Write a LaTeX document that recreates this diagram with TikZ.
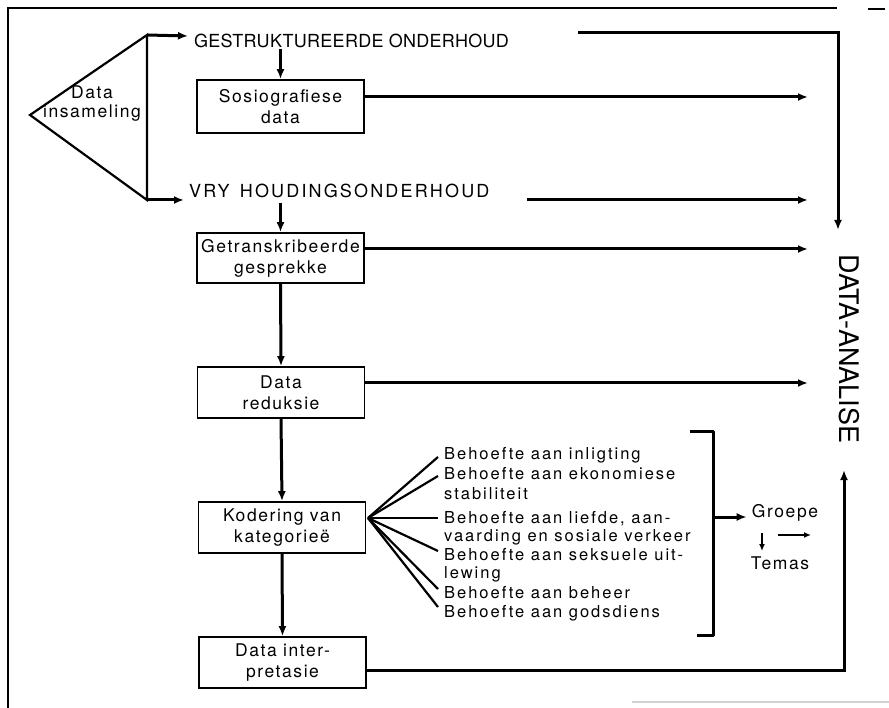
\documentclass[tikz,border=0pt]{standalone}
\usepackage{fontspec}
\setmainfont{TeX Gyre Heros}
\newfontfamily\boxfont[LetterSpace=9]{TeX Gyre Heros}
\newfontfamily\lblfont[LetterSpace=12]{TeX Gyre Heros}
\newfontfamily\headfont[LetterSpace=1.5]{TeX Gyre Heros}
\newfontfamily\headwfont[LetterSpace=12]{TeX Gyre Heros}
\usetikzlibrary{arrows.meta,calc}
\begin{document}
\begin{tikzpicture}[x=1pt,y=-1pt,
  arr/.style={line width=3pt,-{Latex[length=10pt,width=8pt]}},
  smallarr/.style={line width=2.2pt,-{Latex[length=7pt,width=6pt]}},
  thickline/.style={line width=3pt},
  fan/.style={line width=2.2pt},
  stepbox/.style={draw,line width=1.7pt,minimum width=167pt,inner sep=0pt,align=center,
    font=\boxfont\fontsize{17.5}{21}\selectfont},
  lbl/.style={anchor=base west,inner sep=0pt,font=\lblfont\fontsize{16.5}{19}\selectfont},
  plain/.style={inner sep=0pt,align=center,font=\boxfont\fontsize{17.5}{19}\selectfont},
  head/.style={anchor=base west,inner sep=0pt,font=\headfont\fontsize{18}{20}\selectfont},
  headw/.style={anchor=base west,inner sep=0pt,font=\headwfont\fontsize{18}{20}\selectfont}
]
\useasboundingbox (0,0) rectangle (889,708);

% frame
\draw[line width=1.2pt] (8,708) -- (8,8) -- (837,8);
\draw[line width=1.2pt] (868,9) -- (885,9);
\draw[gray!35,line width=1.5pt] (632,702) -- (889,702);

% triangle
\coordinate (apex) at (30,115);
\coordinate (tt) at (147,35);
\coordinate (tb) at (147,200);
\draw[line width=2.2pt,line join=miter] (tt) -- (apex) -- (tb) -- cycle;
\node[plain] (dins) at (92,104) {Data\\insameling};

% headings
\node[head] (gest) at (194,48) {GESTRUKTUREERDE ONDERHOUD};
\node[headw] (vry) at (189,198) {VRY\hspace{3pt} HOUDINGSONDERHOUD};
\coordinate (ga) at (188,36);
\coordinate (va) at (184,200);
\draw[arr] (tt) -- (ga);
\draw[arr] (tb) -- (va);

% boxes
\node[stepbox,minimum height=53pt] (soc) at (280.5,106.5) {Sosiografiese\\data};
\node[stepbox,minimum height=50pt] (getr) at (280.5,258) {Getranskribeerde\\gesprekke};
\node[stepbox,minimum height=51pt] (red) at (281,392.5) {Data\\reduksie};
\node[stepbox,minimum height=51pt] (kod) at (282,527.5) {Kodering van\\kategorieë};
\node[stepbox,minimum height=51pt] (interp) at (282.5,662.5) {Data inter-\\pretasie};

% vertical arrows
\draw[arr] (gest.south -| soc.north) -- (soc.north);
\draw[arr] ([yshift=-4pt]vry.south -| getr.north) -- (getr.north);
\draw[arr] (getr.south) -- (red.north);
\draw[arr] (red.south) -- (kod.north);
\draw[arr] (kod.south) -- (interp.north);

% arrows to the right
\coordinate (r1) at (808,97);
\coordinate (r2) at (808,200);
\coordinate (r3) at (808,249);
\coordinate (r4) at (808,383);
\coordinate (v0) at (527,200);
\draw[arr] (soc.east |- r1) -- (r1);
\draw[arr] (v0) -- (r2);
\draw[arr] (getr.east |- r3) -- (r3);
\draw[arr] (red.east |- r4) -- (r4);

% DATA-ANALISE
\node[rotate=-90,inner sep=0pt,font=\fontsize{27}{30}\selectfont] (da) at (849,349) {DATA-ANALISE};
\coordinate (g0) at (578,33);
\coordinate (gc) at (838,33);
\coordinate (da1) at (838,230);
\draw[arr] (g0) -- (gc) -- (da1);
\coordinate (bc) at (844,670);
\coordinate (da2) at (844,470);
\draw[arr] (interp.east |- bc) -- (bc) -- (da2);

% category labels
\node[lbl] (b1) at (444,460) {Behoefte aan inligting};
\node[lbl] (b2) at (444,479) {Behoefte aan ekonomiese};
\node[lbl] (b2b) at (444,499) {stabiliteit};
\node[lbl] (b3) at (444,523) {Behoefte aan liefde, aan-};
\node[lbl] (b3b) at (444,541) {vaarding en sosiale verkeer};
\node[lbl] (b4) at (444,560) {Behoefte aan seksuele uit-};
\node[lbl] (b4b) at (444,578) {lewing};
\node[lbl] (b5) at (444,598) {Behoefte aan beheer};
\node[lbl] (b6) at (444,617) {Behoefte aan godsdiens};

% fan
\coordinate (fo) at (368,518);
\coordinate (f1) at (438,457);
\coordinate (f2) at (438,476);
\coordinate (f3) at (438,518);
\coordinate (f4) at (438,551);
\coordinate (f5) at (438,589);
\coordinate (f6) at (438,607);
\foreach \f in {f1,f2,f3,f4,f5,f6} \draw[fan] (fo) -- (\f);

% bracket
\coordinate (k1) at (690,432);
\coordinate (k2) at (713,432);
\coordinate (k3) at (713,635);
\coordinate (k4) at (697,635);
\draw[thickline,line join=round] (k1) -- (k2) -- (k3) -- (k4);
\coordinate (bk) at (713,517);

\node[plain] (gr) at (785,513) {Groepe};
\node[plain] (tm) at (780,563) {Temas};
\draw[arr] (bk) -- ([xshift=-5pt]gr.west |- bk);
\coordinate (sd1) at (762,533);
\coordinate (sd2) at (762,551);
\coordinate (sr1) at (778,535);
\coordinate (sr2) at (811,535);
\draw[smallarr] (sd1) -- (sd2);
\draw[smallarr] (sr1) -- (sr2);
\end{tikzpicture}
\end{document}
